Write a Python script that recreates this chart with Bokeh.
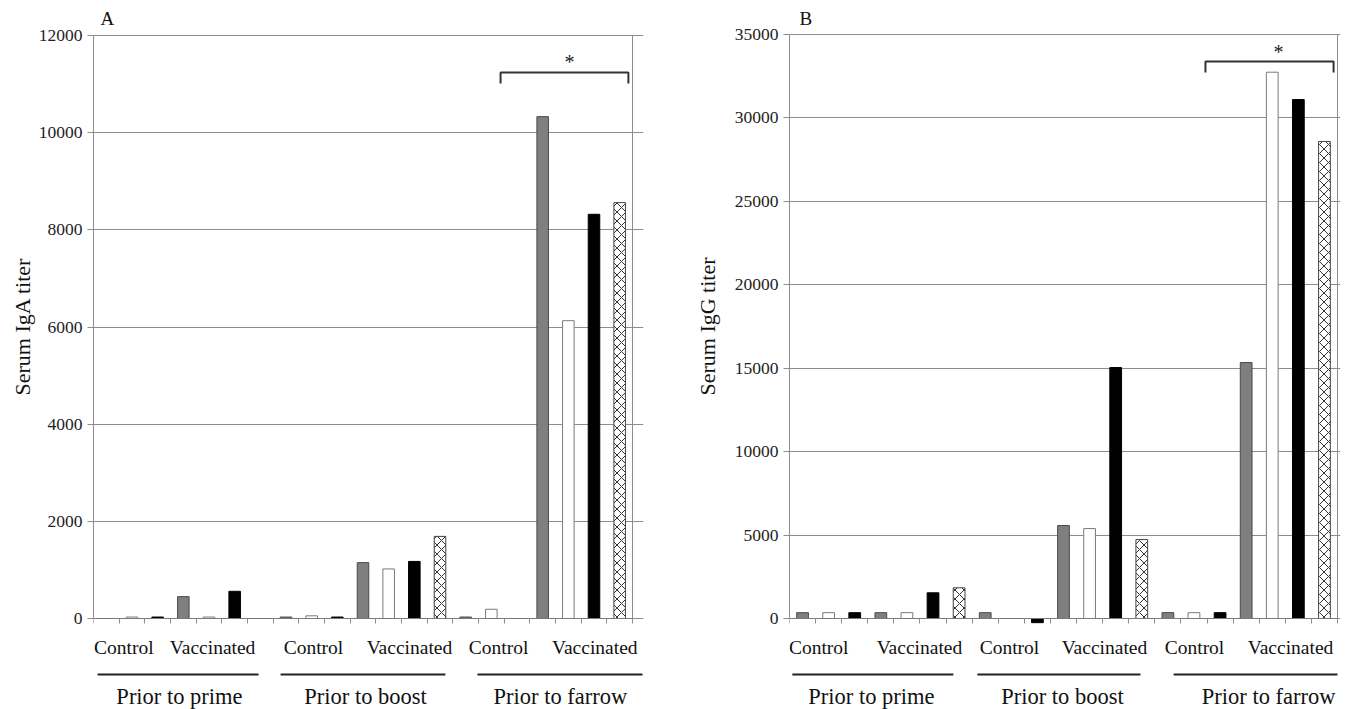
from bokeh.plotting import figure
from bokeh.models import Range1d, FixedTicker, Label, LinearAxis, ColumnDataSource
from bokeh.layouts import row
from bokeh.embed import file_html
from bokeh.resources import INLINE

# ---------------- data ----------------
timepoints = ["Prior to prime", "Prior to boost", "Prior to farrow"]
groups = ["Control", "Vaccinated"]
series = ["Series 1", "Series 2", "Series 3", "Series 4"]

# Panel A: serum IgA titer (control has series 1-3, vaccinated series 1-4)
iga_control = [[0, 30, 30], [30, 55, 30], [30, 190, 0]]
iga_vaccinated = [[450, 30, 560, 0], [1150, 1020, 1175, 1690], [10330, 6130, 8320, 8560]]
iga_ticks = [0, 2000, 4000, 6000, 8000, 10000, 12000]

# Panel B: serum IgG titer
igg_control = [[350, 350, 350], [350, 0, -250], [350, 350, 350]]
igg_vaccinated = [[350, 350, 1540, 1840], [5570, 5390, 15040, 4730], [15340, 32740, 31100, 28590]]
igg_ticks = [0, 5000, 10000, 15000, 20000, 25000, 30000, 35000]

FONT = "Liberation Serif"
GRID = "#8c8c8c"
STYLES = [
    dict(fill_color="#7f7f7f", line_color="#4a4a4a"),
    dict(fill_color="#ffffff", line_color="#7a7a7a"),
    dict(fill_color="#000000", line_color="#000000"),
    dict(fill_color="#ffffff", line_color="#444444", hatch_pattern="diagonal_cross",
         hatch_color="#333333", hatch_scale=9, hatch_weight=1),
]
FIG_H = 709
BASE_FIX = 7   # rendered alphabetic baseline sits ~7 px lower than requested


def build(control, vaccinated, ticks, ylabel, letter, box_w, box_h, zero_px,
          left_border, frame_w, fig_w, lay, ylabel_standoff):
    ymax = ticks[-1]
    n_per_tp = 7
    n_cat = n_per_tp * len(timepoints)
    cw = box_w / n_cat                  # pixels per category
    ppu = box_h / ymax                  # pixels per data unit

    def ydat(px):                       # screen row -> data value
        return (zero_px - px) / ppu

    def ybase(px):                      # text baseline row -> data value
        return ydat(px - BASE_FIX)

    p = figure(frame_width=frame_w, frame_height=FIG_H,
               min_border_left=left_border, min_border_right=fig_w - left_border - frame_w,
               min_border_top=0, min_border_bottom=0,
               x_range=Range1d(0, frame_w / cw), y_range=Range1d(ydat(FIG_H), ydat(0)),
               output_backend="svg", toolbar_location=None, tools="")
    p.outline_line_color = None
    p.background_fill_color = "white"
    p.border_fill_color = "white"

    # grid & axes
    p.xgrid.visible = False
    p.ygrid.ticker = FixedTicker(ticks=ticks)
    p.ygrid.bounds = (0, n_cat)
    p.ygrid.grid_line_color = GRID
    p.ygrid.grid_line_width = 1

    # right border of plot box
    p.segment(x0=[n_cat], y0=[0], x1=[n_cat], y1=[ymax], line_color=GRID, line_width=1)

    # bars
    for s in range(len(series)):
        xs, tops = [], []
        for t in range(len(timepoints)):
            if s < len(control[t]):
                xs.append(t * n_per_tp + s + 0.5)
                tops.append(control[t][s])
            xs.append(t * n_per_tp + 3 + s + 0.5)
            tops.append(vaccinated[t][s])
        src = ColumnDataSource(dict(x=xs, top=tops))
        p.vbar(x="x", top="top", bottom=0, width=0.45, source=src, line_width=1, **STYLES[s])

    ya = p.yaxis[0]
    ya.ticker = FixedTicker(ticks=ticks)
    ya.bounds = (0, ymax)
    ya.axis_line_color = GRID
    ya.major_tick_line_color = GRID
    ya.major_tick_out = 6
    ya.major_tick_in = 0
    ya.minor_tick_line_color = None
    ya.major_label_standoff = 5
    ya.major_label_text_font = FONT
    ya.major_label_text_font_size = "17.5px"
    ya.major_label_text_color = "#222222"

    # y title as a second left axis carrying one vertical label at the box centre
    ymid = ydat(326)
    ytitle = LinearAxis(ticker=FixedTicker(ticks=[ymid]), major_label_overrides={ymid: ylabel},
                        major_label_orientation="vertical", axis_line_color=None,
                        major_tick_line_color=None, minor_tick_line_color=None,
                        major_tick_out=0, major_tick_in=0,
                        major_label_standoff=ylabel_standoff, major_label_text_font=FONT,
                        major_label_text_font_size="22px", major_label_text_color="#111111")
    p.add_layout(ytitle, "left")

    xa = p.xaxis[0]
    xa.ticker = FixedTicker(ticks=list(range(n_cat + 1)))
    xa.major_label_overrides = {i: "" for i in range(n_cat + 1)}
    xa.fixed_location = 0
    xa.bounds = (0, n_cat)
    xa.axis_line_color = "#7a7a7a"
    xa.major_tick_line_color = GRID
    xa.major_tick_out = 5
    xa.major_tick_in = 0
    xa.minor_tick_line_color = None
    xa.major_label_text_font_size = "1px"
    xa.major_label_standoff = 0

    # significance bracket
    bx0, bx1, by, bdrop = lay["bracket"]
    p.line(x=[bx0, bx0, bx1, bx1], y=[ydat(by + bdrop), ydat(by), ydat(by), ydat(by + bdrop)],
           line_color="#333333", line_width=2)
    p.add_layout(Label(x=lay["star"][0], y=ybase(lay["star"][1]), text="*", text_font=FONT,
                       text_font_size="20px", text_align="center", text_baseline="alphabetic",
                       text_color="#222222"))

    # panel letter
    p.add_layout(Label(x=lay["letter"], y=ybase(25), text=letter, text_font=FONT,
                       text_font_size="19px", text_align="left", text_baseline="alphabetic",
                       text_color="#111111"))

    # group labels, underlines, time point labels
    for t in range(len(timepoints)):
        for g in range(len(groups)):
            p.add_layout(Label(x=lay["groups"][t][g], y=ybase(654), text=groups[g], text_font=FONT,
                               text_font_size="19.5px", text_align="center",
                               text_baseline="alphabetic", text_color="#111111"))
        u0, u1 = lay["lines"][t]
        p.segment(x0=[u0], y0=[ydat(674)], x1=[u1], y1=[ydat(674)],
                  line_color="#222222", line_width=2)
        p.add_layout(Label(x=lay["tp"][t], y=ybase(703), text=timepoints[t], text_font=FONT,
                           text_font_size="22.5px", text_align="center",
                           text_baseline="alphabetic", text_color="#111111"))
    return p


layA = dict(
    bracket=(15.86, 20.84, 72, 11),
    star=(18.55, 68),
    letter=0.27,
    groups=[(1.18, 4.64), (8.57, 12.31), (15.78, 19.53)],
    lines=[(0.16, 6.43), (7.29, 13.71), (14.96, 21.39)],
    tp=[3.35, 10.6, 18.19],
)
layB = dict(
    bracket=(15.94, 20.85, 61, 11),
    star=(18.74, 58),
    letter=0.38,
    groups=[(1.12, 4.98), (8.43, 12.07), (15.52, 19.2)],
    lines=[(0.11, 6.28), (7.2, 13.45), (14.72, 21.0)],
    tp=[3.14, 10.46, 18.36],
)

pA = build(iga_control, iga_vaccinated, iga_ticks, "Serum IgA titer", "A",
           box_w=539, box_h=583, zero_px=618, left_border=93, frame_w=550, fig_w=680,
           lay=layA, ylabel_standoff=1)
pB = build(igg_control, igg_vaccinated, igg_ticks, "Serum IgG titer", "B",
           box_w=548, box_h=584, zero_px=618, left_border=109, frame_w=551, fig_w=669,
           lay=layB, ylabel_standoff=12)

layout = row(pA, pB)
open("out.html", "w").write(file_html(layout, INLINE))
